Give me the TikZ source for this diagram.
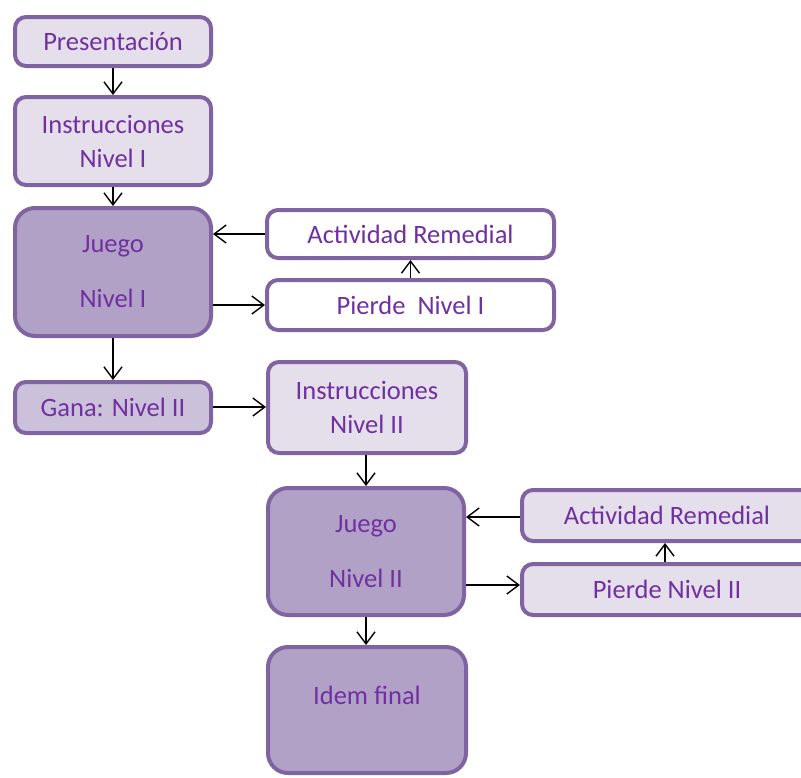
\documentclass[tikz,border=0pt]{standalone}
\usepackage{fontspec}
\setmainfont{Carlito}
\usetikzlibrary{arrows.meta}
\definecolor{bord}{HTML}{8064A2}
\definecolor{light}{HTML}{E5DFEC}
\definecolor{mid}{HTML}{B2A1C7}
\definecolor{gana}{HTML}{CCC1DA}
\definecolor{txt}{HTML}{7030A0}
\begin{document}
\begin{tikzpicture}[x=1pt,y=-1pt,
  box/.style={draw=bord, line width=4pt, rounded corners=11pt, inner sep=0pt,
    text=txt, align=center, font=\fontsize{26.5}{31}\selectfont},
  bigbox/.style={box, rounded corners=20pt},
  arr/.style={-{Straight Barb[length=12pt,width=18pt,line width=1.4pt]}, line width=1.4pt, black}]
\useasboundingbox (0,0) rectangle (801,777);
% boxes (centre, width, height)
\node[box, fill=light, minimum width=196, minimum height=49] (pres) at (113,41.5) {Presentación};
\node[box, fill=light, minimum width=196, minimum height=88] (ins1) at (113,141) {Instrucciones\\[3pt]Nivel I};
\node[bigbox, fill=mid, minimum width=196, minimum height=128] (jue1) at (113,272) {Juego\\[24pt]Nivel I};
\node[box, fill=white, minimum width=287, minimum height=48] (act1) at (410.5,234) {Actividad Remedial};
\node[box, fill=white, minimum width=287, minimum height=50] (pie1) at (410.5,305) {Pierde~ Nivel I};
\node[box, fill=gana, minimum width=196, minimum height=51] (gana) at (113,407.5) {Gana: Nivel II};
\node[box, fill=light, minimum width=198, minimum height=91] (ins2) at (367,407.5) {Instrucciones\\[3pt]Nivel II};
\node[bigbox, fill=mid, minimum width=196, minimum height=127] (jue2) at (366,551.5) {Juego\\[24pt]Nivel II};
\node[box, fill=light, minimum width=290, minimum height=51] (act2) at (667,515.5) {Actividad Remedial};
\node[box, fill=light, minimum width=290, minimum height=51] (pie2) at (667,589.5) {Pierde Nivel II};
\node[bigbox, fill=mid, minimum width=198, minimum height=126] (idem) at (367,710) {Idem final\\[-10pt]\strut};
% arrows
\draw[arr] (pres.south) -- (ins1.north);
\draw[arr] (ins1.south) -- (jue1.north);
\draw[arr] (act1.west) -- (act1.west -| jue1.east);
\draw[arr] (jue1.east |- pie1.west) -- (pie1.west);
\draw[arr] (pie1.north) -- (act1.south);
\draw[arr] (jue1.south) -- (gana.north);
\draw[arr] (gana.east |- 0,407) -- (ins2.west |- 0,407);
\draw[arr] (ins2.south -| jue2.north) -- (jue2.north);
\draw[arr] (act2.west |- 0,517) -- (jue2.east |- 0,517);
\draw[arr] (jue2.east |- 0,585) -- (pie2.west |- 0,585);
\draw[arr] (pie2.north -| 665,0) -- (act2.south -| 665,0);
\draw[arr] (jue2.south) -- (jue2.south |- idem.north);
\end{tikzpicture}
\end{document}
